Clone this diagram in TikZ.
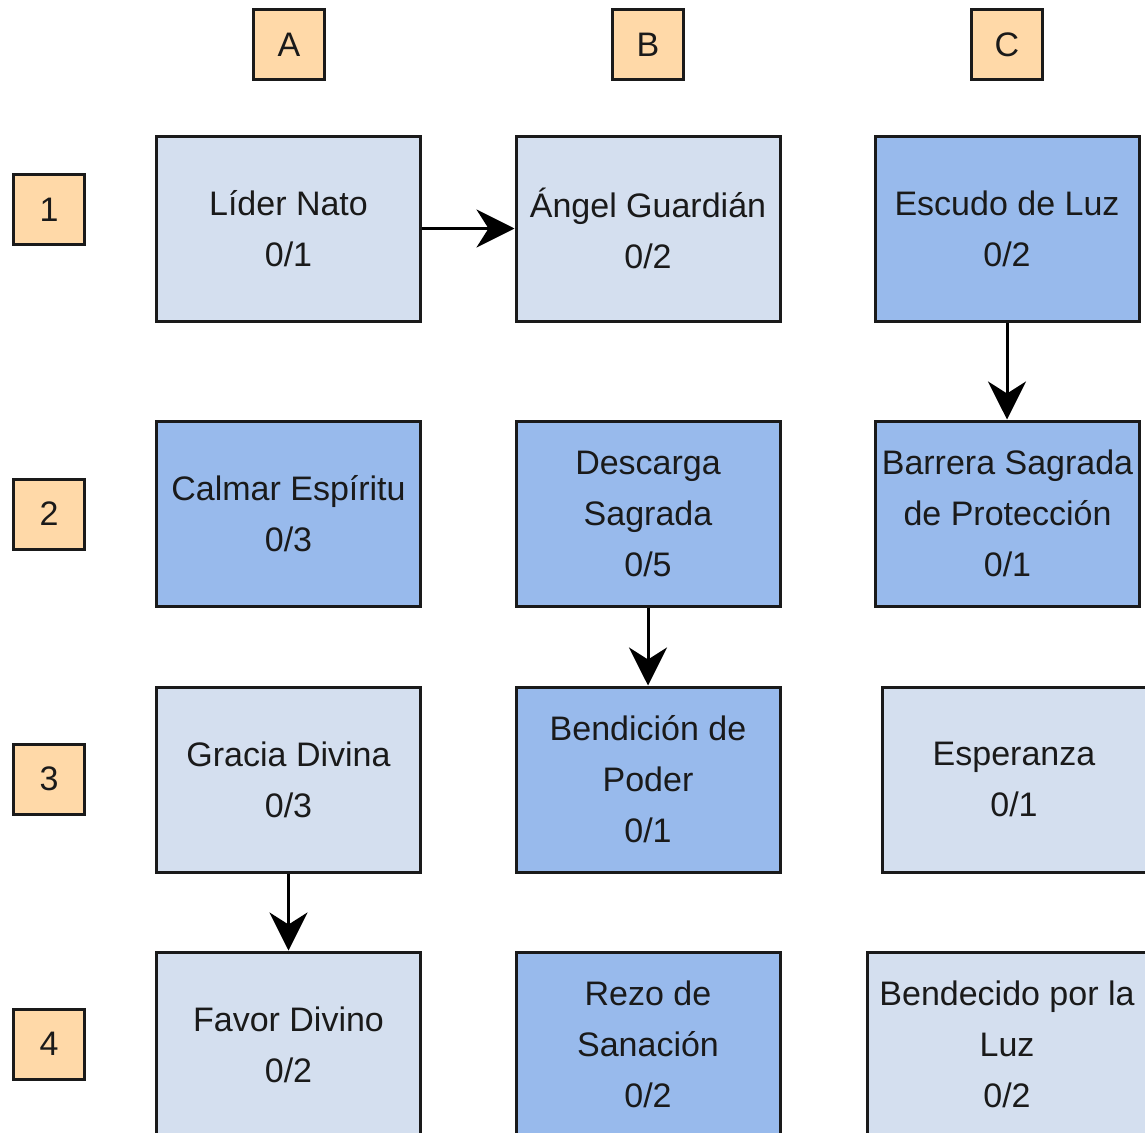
\documentclass[tikz,border=0pt]{standalone}
\usepackage{fontspec}
\setmainfont{Liberation Sans}
\usetikzlibrary{arrows.meta}
\definecolor{lightb}{HTML}{D4DFEF}
\definecolor{darkb}{HTML}{98BAEC}
\definecolor{orangec}{HTML}{FFD9A8}
\definecolor{edgec}{HTML}{1A1A1A}
\begin{document}
\begin{tikzpicture}[x=1pt,y=-1pt,
  box/.style={draw=edgec, line width=3pt, fill=lightb, minimum width=264pt, minimum height=185pt,
    inner sep=0pt, align=center, text=edgec, font=\fontsize{34}{51}\selectfont},
  dbox/.style={box, fill=darkb},
  tag/.style={draw=edgec, line width=3pt, fill=orangec, minimum width=71pt, minimum height=70pt,
    inner sep=0pt, text=edgec, font=\fontsize{34}{51}\selectfont},
  arr/.style={draw=black, line width=3pt, -{Stealth[length=38pt,width=38pt,inset=12pt]}}]
\useasboundingbox (0,0) rectangle (1145,1132);
\clip (0,0) rectangle (1145,1132);
% column headers
\node[tag] (hA) at (289,44.5) {A};
\node[tag] (hB) at (648,44.5) {B};
\node[tag] (hC) at (1007,44.5) {C};
% row headers
\node[tag] (r1) at (49,209.5) {1};
\node[tag] (r2) at (49,514) {2};
\node[tag] (r3) at (49,779) {3};
\node[tag] (r4) at (49,1044) {4};
% row 1
\node[box]  (lider)   at (288.5,228.5) {Líder Nato\\0/1};
\node[box]  (angel)   at (648,228.5)   {Ángel Guardián\\0/2};
\node[dbox] (escudo)  at (1007,228.5)  {Escudo de Luz\\0/2};
% row 2
\node[dbox] (calmar)   at (288.5,513.5) {Calmar Espíritu\\0/3};
\node[dbox] (descarga) at (648,513.5)   {Descarga\\Sagrada\\0/5};
\node[dbox] (barrera)  at (1007.5,513.5) {Barrera Sagrada\\de Protección\\0/1};
% row 3
\node[box]  (gracia)    at (288.5,779.5) {Gracia Divina\\0/3};
\node[dbox] (bendicion) at (648,779.5)   {Bendición de\\Poder\\0/1};
\node[box]  (esperanza) at (1014,779.5)  {Esperanza\\0/1};
% row 4
\node[box]  (favor)     at (288.5,1044.5) {Favor Divino\\0/2};
\node[dbox] (rezo)      at (648,1044.5)   {Rezo de\\Sanación\\0/2};
\node[box, minimum width=280pt] (bendecido) at (1007,1044.5) {Bendecido por la\\Luz\\0/2};
% arrows
\draw[arr] (lider.east) -- (angel.west);
\draw[arr] (escudo.south) -- (escudo.south |- barrera.north);
\draw[arr] (descarga.south) -- (bendicion.north);
\draw[arr] (gracia.south) -- (favor.north);
\end{tikzpicture}
\end{document}
